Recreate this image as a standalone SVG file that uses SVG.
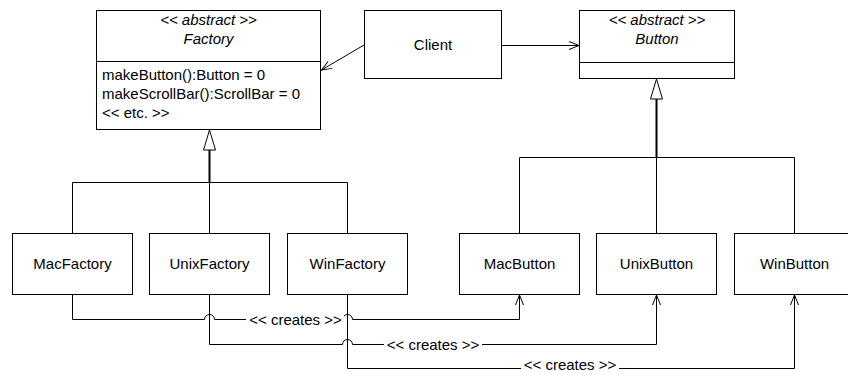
<svg xmlns="http://www.w3.org/2000/svg" width="848" height="374" viewBox="0 0 848 374">
<defs>
<style>
.box{fill:#fff;stroke:#000;stroke-width:1}
.ln{fill:none;stroke:#000;stroke-width:1}
.thick{fill:none;stroke:#000;stroke-width:2}
.tri{fill:#fff;stroke:#000;stroke-width:1}
text{font-family:"Liberation Sans",Arial,sans-serif;font-size:15px;fill:#000}
.c{text-anchor:middle}
.it{font-style:italic}
.bg{fill:#fff;stroke:none}
</style>
<marker id="open" markerUnits="userSpaceOnUse" markerWidth="12" markerHeight="10" refX="11" refY="5" orient="auto" viewBox="0 0 12 10">
<path d="M1,1 L11,5 L1,9" fill="none" stroke="#000" stroke-width="1"/>
</marker>
</defs>
<rect width="848" height="374" fill="#fff"/>
<g id="connectors">
<line class="ln" x1="364" y1="45" x2="321.5" y2="70" marker-end="url(#open)"/>
<line class="ln" x1="502" y1="45.5" x2="579" y2="45.5" marker-end="url(#open)"/>
<polygon class="tri" points="209.5,130 203.5,150 215.5,150"/>
<line class="thick" x1="209.5" y1="150" x2="209.5" y2="182.5"/>
<path class="ln" d="M72.5,233 V182.5 H347.5 V233 M209.5,182.5 V233"/>
<polygon class="tri" points="656.5,79 650.5,99 662.5,99"/>
<line class="thick" x1="656.5" y1="99" x2="656.5" y2="157.5"/>
<path class="ln" d="M519.5,233 V157.5 H794.5 V233 M656.5,157.5 V233"/>
<path class="ln" d="M72.5,295 V319.5 H204.5 a5,5 0 0 1 10,0 H342.5 a5,5 0 0 1 10,0 H519.5 V295" marker-end="url(#open)"/>
<rect class="bg" x="246" y="311" width="98" height="17"/>
<text class="c" x="295.5" y="324.5">&lt;&lt; creates &gt;&gt;</text>
<path class="ln" d="M209.5,295 V344.5 H342.5 a5,5 0 0 1 10,0 H656.5 V295" marker-end="url(#open)"/>
<rect class="bg" x="384" y="336" width="98" height="17"/>
<text class="c" x="433" y="349.5">&lt;&lt; creates &gt;&gt;</text>
<path class="ln" d="M347.5,295 V368.5 H794.5 V295" marker-end="url(#open)"/>
<rect class="bg" x="521" y="358" width="98" height="16"/>
<text class="c" x="570" y="370">&lt;&lt; creates &gt;&gt;</text>
</g>
<g id="Factory">
<rect class="box" x="96.5" y="10.5" width="224" height="119"/>
<line class="ln" x1="96.5" y1="61.5" x2="320.5" y2="61.5"/>
<text class="c it" x="208.5" y="25">&lt;&lt; abstract &gt;&gt;</text>
<text class="c it" x="208.5" y="44">Factory</text>
<text x="102" y="80">makeButton():Button = 0</text>
<text x="102" y="99">makeScrollBar():ScrollBar = 0</text>
<text x="102" y="118">&lt;&lt; etc. &gt;&gt;</text>
</g>
<g id="Client">
<rect class="box" x="364.5" y="10.5" width="137" height="68"/>
<text class="c" x="433" y="50">Client</text>
</g>
<g id="Button">
<rect class="box" x="579.5" y="10.5" width="155" height="68"/>
<line class="ln" x1="579.5" y1="62.5" x2="734.5" y2="62.5"/>
<text class="c it" x="657" y="25">&lt;&lt; abstract &gt;&gt;</text>
<text class="c it" x="657" y="44">Button</text>
</g>
<g id="MacFactory">
<rect class="box" x="12.5" y="233.5" width="120" height="61"/>
<text class="c" x="72.5" y="269">MacFactory</text>
</g>
<g id="UnixFactory">
<rect class="box" x="149.5" y="233.5" width="120" height="61"/>
<text class="c" x="209.5" y="269">UnixFactory</text>
</g>
<g id="WinFactory">
<rect class="box" x="287.5" y="233.5" width="120" height="61"/>
<text class="c" x="347.5" y="269">WinFactory</text>
</g>
<g id="MacButton">
<rect class="box" x="459.5" y="233.5" width="120" height="61"/>
<text class="c" x="519.5" y="269">MacButton</text>
</g>
<g id="UnixButton">
<rect class="box" x="596.5" y="233.5" width="120" height="61"/>
<text class="c" x="656.5" y="269">UnixButton</text>
</g>
<g id="WinButton">
<rect class="box" x="734.5" y="233.5" width="120" height="61"/>
<text class="c" x="794.5" y="269">WinButton</text>
</g>
</svg>
